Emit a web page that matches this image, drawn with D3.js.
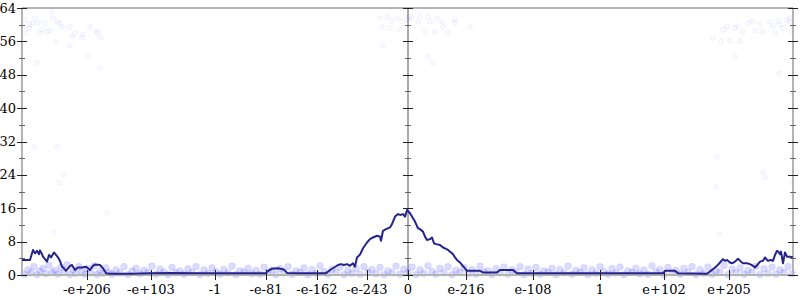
<!DOCTYPE html>
<html>
<head>
<meta charset="utf-8">
<script src="https://cdn.jsdelivr.net/npm/d3@7"></script>
<style>
  html, body { margin: 0; padding: 0; background: #fff; }
  svg { display: block; }
  text { font-family: "DejaVu Serif", "Liberation Serif", serif; font-size: 13px; fill: #000; }
</style>
</head>
<body>
<div id="chart"></div>
<script>
// x positions are ordinal slots along the axis (0 .. 771), the middle slot is zero

const xTickPos = [65, 129, 193, 244, 295, 345, 386, 444, 511, 578, 642, 707];
const xTickLabels = ['-e+206', '-e+103', '-1', '-e-81', '-e-162', '-e-243', '0', 'e-216', 'e-108', '1', 'e+102', 'e+205'];
const yTicks = [0, 8, 16, 24, 32, 40, 48, 56, 64];
const yMinorTicks = [4, 12, 20, 28, 36, 44, 52, 60];

// smoothed line
const lineX = [0, 8, 11, 13, 15, 17, 18, 20, 21, 23, 25, 27, 29, 30, 32, 34, 36, 38, 40, 42, 44, 46, 48, 50, 51, 53, 55, 56, 60, 64, 66, 68, 71, 73, 78, 81, 84, 88, 108, 128, 148, 178, 208, 244, 246, 250, 256, 262, 265, 278, 304, 308, 312, 316, 319, 322, 325, 328, 331, 333, 335, 338, 341, 345, 348, 351, 355, 358, 359, 361, 364, 368, 370, 373, 376, 378, 381, 383, 385, 388, 391, 393, 396, 398, 401, 403, 405, 408, 410, 412, 414, 418, 421, 423, 426, 429, 431, 433, 435, 438, 440, 443, 445, 458, 461, 475, 478, 491, 495, 538, 578, 618, 641, 643, 653, 656, 685, 691, 695, 698, 701, 703, 705, 708, 710, 713, 716, 719, 721, 725, 728, 731, 733, 736, 738, 741, 743, 746, 749, 751, 753, 755, 757, 758, 759, 761, 763, 765, 768, 771];
const lineY = [3.6, 3.6, 6.0, 5.2, 5.8, 5.0, 5.9, 5.0, 4.4, 3.8, 3.2, 4.8, 4.2, 4.6, 5.4, 4.8, 4.2, 3.4, 2.0, 1.6, 1.0, 1.6, 2.2, 2.4, 2.0, 1.2, 1.6, 1.8, 1.8, 2.0, 1.6, 1.2, 2.2, 2.5, 2.4, 1.6, 0.4, 0.3, 0.3, 0.4, 0.5, 0.4, 0.4, 0.4, 1.0, 1.5, 1.6, 1.3, 0.5, 0.4, 0.4, 1.2, 1.8, 2.4, 2.6, 2.4, 2.6, 2.2, 2.8, 2.0, 4.2, 4.9, 6.4, 7.8, 8.6, 9.0, 9.4, 9.2, 8.2, 10.6, 11.0, 11.4, 12.2, 14.0, 14.6, 14.4, 14.6, 14.0, 15.6, 14.8, 13.6, 12.8, 11.2, 11.0, 10.4, 9.2, 8.4, 8.6, 9.0, 7.6, 7.4, 7.2, 6.6, 6.4, 6.0, 5.4, 5.0, 4.2, 3.6, 3.0, 2.4, 1.6, 1.0, 1.0, 0.6, 0.6, 1.2, 1.2, 0.4, 0.4, 0.4, 0.4, 0.4, 1.0, 1.0, 0.4, 0.3, 1.4, 2.2, 3.0, 3.8, 3.4, 3.6, 3.0, 2.8, 3.2, 3.9, 3.2, 2.8, 2.8, 2.6, 2.2, 1.8, 2.6, 3.2, 3.4, 4.2, 3.4, 3.6, 3.4, 4.8, 5.8, 5.4, 5.0, 5.6, 2.8, 5.4, 4.4, 4.4, 4.2];

// raw samples far from the floor
const highPoints = [
  [3, 61.1], [13, 61.6], [8, 60.0], [16, 60.4], [23, 60.4], [30, 63.1], [31, 61.6], [35, 60.7], [38, 60.4], [40, 59.5],
  [48, 59.5], [50, 57.3], [53, 58.0], [61, 57.6], [60, 56.8], [68, 59.5], [75, 58.5], [76, 58.0], [79, 56.8], [48, 54.9],
  [34, 55.9], [66, 52.5], [15, 50.8], [78, 49.6], [4, 58.0], [18, 58.0], [25, 58.3], [28, 58.5], [7, 59.2], [11, 60.4],
  [20, 58.8], [12, 30.7], [35, 30.7], [42, 24.0], [37, 22.1], [85, 14.9], [32, 10.3],
  [358, 61.6], [365, 61.9], [370, 60.9], [376, 61.6], [380, 60.7], [387, 61.9], [390, 61.6], [398, 62.1], [396, 60.7],
  [406, 61.9], [408, 60.7], [415, 61.6], [420, 60.7], [421, 59.5], [426, 58.0], [433, 61.2], [433, 60.4], [448, 59.5],
  [413, 58.3], [403, 58.3], [378, 58.8], [368, 59.2], [361, 55.1], [406, 52.3], [411, 50.8], [360, 59.5], [385, 61.2],
  [691, 56.8], [699, 55.9], [708, 56.1], [718, 56.1], [701, 58.8], [705, 59.5], [713, 59.2], [716, 59.7], [721, 58.3],
  [726, 60.4], [730, 60.9], [733, 58.5], [738, 60.2], [741, 58.3], [748, 60.7], [751, 59.7], [753, 58.0], [756, 60.9],
  [758, 60.0], [761, 59.2], [765, 61.2], [768, 61.6], [768, 60.7], [770, 58.3], [713, 52.3], [757, 48.4], [695, 28.3],
  [694, 21.1], [741, 24.7], [743, 23.5], [770, 22.1], [697, 9.8]
];

// raw samples near the floor
const lowPoints = [
  [2,0.2],[6,1.2],[9,0.5],[12,2.0],[15,0.1],[18,0.9],[21,1.6],[24,0.3],[27,2.3],[30,0.6],[33,1.1],[36,0.2],[39,1.8],[42,0.7],[45,2.4],
  [48,0.1],[51,1.3],[54,0.4],[57,2.0],[60,0.8],[63,0.2],[66,1.5],[69,0.5],[72,2.2],[75,0.1],[78,1.0],[81,0.4],[84,1.7],[87,0.6],[90,0.2],
  [94,1.2],[98,0.5],[102,2.0],[106,0.1],[110,0.9],[114,1.6],[118,0.3],[122,1.1],[126,0.6],[130,2.1],[134,0.2],[138,1.4],[142,0.7],[146,0.1],
  [150,1.8],[154,0.5],[158,1.0],[162,0.2],[166,1.5],[170,0.6],[174,2.0],[178,0.1],[182,1.2],[186,0.4],[190,1.7],[194,0.8],[198,0.2],
  [202,1.3],[206,0.5],[210,2.1],[214,0.1],[218,1.0],[222,0.6],[226,1.6],[230,0.3],[234,1.1],[238,0.2],[242,1.9],[246,0.7],[250,1.2],
  [254,0.1],[258,1.5],[262,0.5],[266,2.0],[270,0.2],[274,1.0],[278,0.6],[282,1.7],[286,0.1],[290,1.3],[294,0.4],[298,2.2],[302,0.8],
  [306,0.2],[310,1.4],[314,0.6],[318,1.9],[322,0.1],[326,1.1],[330,0.4],[334,1.6],[338,0.2],[342,2.0],[346,0.7],[350,1.3],[354,0.3],
  [358,1.8],[362,0.1],[366,1.0],[370,0.5],[374,2.1],[378,0.2],[382,1.4],[386,0.6],[390,1.9],[394,0.1],[398,1.2],[402,0.4],[406,2.2],
  [410,0.8],[414,0.2],[418,1.6],[422,0.5],[426,2.0],[430,0.1],[434,1.1],[438,0.6],[442,1.7],[446,0.3],[450,1.3],[454,0.2],[458,2.1],
  [462,0.7],[466,1.0],[470,0.1],[474,1.5],[478,0.5],[482,1.9],[486,0.2],[490,1.2],[494,0.6],[498,2.0],[502,0.1],[506,1.4],[510,0.4],
  [514,1.8],[518,0.2],[522,1.0],[526,0.7],[530,1.6],[534,0.1],[538,1.3],[542,0.5],[546,2.1],[550,0.2],[554,1.1],[558,0.6],[562,1.7],
  [566,0.1],[570,1.2],[574,0.4],[578,2.0],[582,0.8],[586,0.2],[590,1.5],[594,0.5],[598,1.9],[602,0.1],[606,1.0],[610,0.6],[614,1.6],
  [618,0.3],[622,1.2],[626,0.2],[630,2.2],[634,0.7],[638,1.3],[642,0.1],[646,1.8],[650,0.5],[654,1.1],[658,0.2],[662,1.6],[666,0.6],
  [670,2.0],[674,0.1],[678,1.3],[682,0.4],[686,1.9],[690,0.2],[694,1.0],[698,0.7],[702,2.3],[706,0.1],[710,1.4],[714,0.5],[718,1.7],
  [722,0.2],[726,1.1],[730,0.6],[734,2.1],[738,0.1],[742,1.5],[746,0.4],[750,1.9],[754,0.2],[758,1.2],[762,0.6],[766,2.0],[770,0.3]
];

function drawChart() {
    const width = 800;
    const height = 300;
    const margin = { top: 8, right: 7, bottom: 25, left: 22 };
    const fontFamily = '"DejaVu Serif", "Liberation Serif", serif';

    const svg = d3.select('#chart').append('svg')
        .attr('width', width)
        .attr('height', height);

    const x = d3.scaleLinear()
        .domain([0, 771])
        .range([margin.left, width - margin.right]);

    const y = d3.scaleLinear()
        .domain([0, 64])
        .range([height - margin.bottom, margin.top]);

    const x0 = x(386);
    const yBottom = y(0);
    const yTop = y(64);

    // scatter of raw samples
    svg.append('g')
        .selectAll('circle')
        .data(lowPoints)
        .enter()
        .append('circle')
        .attr('cx', d => x(d[0]))
        .attr('cy', d => y(d[1]))
        .attr('r', 3.4)
        .attr('fill', '#2a2aff')
        .attr('fill-opacity', 0.17)
        .attr('stroke', '#2a2aff')
        .attr('stroke-opacity', 0.08);

    svg.append('g')
        .selectAll('circle')
        .data(highPoints)
        .enter()
        .append('circle')
        .attr('cx', d => x(d[0]))
        .attr('cy', d => y(d[1]))
        .attr('r', 2.4)
        .attr('fill', '#4040ff')
        .attr('fill-opacity', 0.025)
        .attr('stroke', '#4040ff')
        .attr('stroke-opacity', 0.07);

    // frame
    const frame = svg.append('g')
        .attr('stroke', '#b4b4b4')
        .attr('stroke-width', 2);
    frame.append('line')
        .attr('x1', x(0)).attr('x2', x(771))
        .attr('y1', yTop).attr('y2', yTop);
    frame.append('line')
        .attr('x1', x(0)).attr('x2', x(0))
        .attr('y1', yTop).attr('y2', yBottom);
    frame.append('line')
        .attr('x1', x(771)).attr('x2', x(771))
        .attr('y1', yTop).attr('y2', yBottom);
    frame.append('line')
        .attr('x1', x(0)).attr('x2', x(771))
        .attr('y1', yBottom).attr('y2', yBottom);

    // center axis
    svg.append('line')
        .attr('x1', x0).attr('x2', x0)
        .attr('y1', yTop).attr('y2', yBottom)
        .attr('stroke', '#555')
        .attr('stroke-width', 1);

    // y ticks on left, center and right
    const tickCols = [x(0), x0, x(771)];
    const ticks = svg.append('g').attr('stroke', '#222').attr('stroke-width', 1);
    tickCols.forEach(cx => {
        yTicks.forEach(t => {
            const yy = Math.round(y(t)) + 0.5;
            ticks.append('line')
                .attr('x1', cx - 5).attr('x2', cx + 5)
                .attr('y1', yy).attr('y2', yy);
        });
        yMinorTicks.forEach(t => {
            const yy = Math.round(y(t)) + 0.5;
            ticks.append('line')
                .attr('x1', cx - 3).attr('x2', cx + 3)
                .attr('y1', yy).attr('y2', yy)
                .attr('stroke', '#666');
        });
    });

    // x ticks
    xTickPos.forEach(p => {
        const xx = Math.round(x(p)) + 0.5;
        ticks.append('line')
            .attr('x1', xx).attr('x2', xx)
            .attr('y1', yBottom - 5).attr('y2', yBottom + 5);
    });

    // y labels
    svg.append('g')
        .selectAll('text')
        .data(yTicks)
        .enter()
        .append('text')
        .attr('x', x(0) - 6)
        .attr('y', d => y(d))
        .attr('dy', '0.35em')
        .attr('text-anchor', 'end')
        .style('font-family', fontFamily)
        .text(d => d);

    // x labels
    svg.append('g')
        .selectAll('text')
        .data(xTickPos)
        .enter()
        .append('text')
        .attr('x', d => x(d))
        .attr('y', yBottom + 19)
        .attr('text-anchor', 'middle')
        .style('font-family', fontFamily)
        .text((d, i) => xTickLabels[i]);

    // smoothed line
    const line = d3.line()
        .x((d, i) => x(lineX[i]))
        .y(d => y(d));

    svg.append('path')
        .datum(lineY)
        .attr('d', line)
        .attr('fill', 'none')
        .attr('stroke', '#24248c')
        .attr('stroke-width', 2)
        .attr('stroke-linejoin', 'round');
}

drawChart();
</script>
</body>
</html>
